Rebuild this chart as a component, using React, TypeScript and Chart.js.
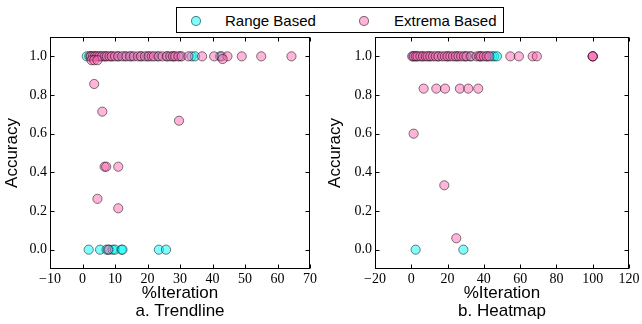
import React, { useEffect, useRef } from 'react';
import { Chart, registerables } from 'chart.js';

Chart.register(...registerables);

// ---- Data: a. Trendline ----
const trendRangeX = [1.3, 2.5, 4.0, 5.5, 7.0, 9.0, 11.0, 13.0, 15.0, 18.0, 20.0, 23.0, 26.0, 28.0, 30.0, 33.6, 34.6, 42.3,
  1.9, 5.4, 7.4, 8.2, 9.3, 10.0, 12.0, 12.3, 23.5, 25.7];
const trendRangeY = [1, 1, 1, 1, 1, 1, 1, 1, 1, 1, 1, 1, 1, 1, 1, 1, 1, 1,
  0, 0, 0, 0, 0, 0, 0, 0, 0, 0];

const trendExtremaX = [2.1, 2.6, 3.2, 3.8, 4.5, 5.2, 6.0, 6.8, 7.5, 8.3, 9.0, 10.0, 11.0, 12.2, 13.5, 14.6, 15.8, 17.0,
  18.0, 19.2, 20.4, 21.3, 22.0, 23.5, 24.6, 26.0, 27.0, 27.8, 28.5, 29.5, 30.5, 32.6, 36.8, 40.5, 42.8, 44.6, 49.0, 55.0, 64.3,
  2.8, 3.6, 4.6, 43.1,
  3.6, 6.1, 29.7, 6.8, 7.3, 11.0, 4.6, 11.0, 7.9];
const trendExtremaY = [1, 1, 1, 1, 1, 1, 1, 1, 1, 1, 1, 1, 1, 1, 1, 1, 1, 1,
  1, 1, 1, 1, 1, 1, 1, 1, 1, 1, 1, 1, 1, 1, 1, 1, 1, 1, 1, 1, 1,
  0.98, 0.98, 0.98, 0.986,
  0.857, 0.714, 0.667, 0.429, 0.429, 0.429, 0.263, 0.214, 0];

// ---- Data: b. Heatmap ----
const heatRangeX = [1.0, 3.0, 6.0, 10.0, 15.0, 20.0, 25.0, 30.0, 32.5, 38.0, 42.0, 44.5, 45.7, 47.2, 2.4, 28.7];
const heatRangeY = [1, 1, 1, 1, 1, 1, 1, 1, 1, 1, 1, 1, 1, 1, 0, 0];

const heatExtremaX = [0.5, 1.5, 2.5, 3.5, 5.0, 6.5, 8.0, 9.0, 10.5, 12.0, 13.5, 15.0, 17.0, 18.5, 20.0, 21.5, 23.0, 24.5,
  26.0, 27.5, 29.0, 30.5, 33.0, 36.0, 37.5, 38.5, 40.0, 41.5, 43.0, 54.6, 59.3, 66.9, 69.2, 100, 100, 100,
  6.8, 13.8, 18.6, 26.8, 31.4, 36.9, 1.3, 18.2, 24.8];
const heatExtremaY = [1, 1, 1, 1, 1, 1, 1, 1, 1, 1, 1, 1, 1, 1, 1, 1, 1, 1,
  1, 1, 1, 1, 1, 1, 1, 1, 1, 1, 1, 1, 1, 1, 1, 1, 1, 1,
  0.833, 0.833, 0.833, 0.833, 0.833, 0.833, 0.6, 0.333, 0.059];

// ---- Axes ----
const yTicks = [0, 0.2, 0.4, 0.6, 0.8, 1.0];
const trendXTicks = [-10, 0, 10, 20, 30, 40, 50, 60, 70];
const heatXTicks = [-20, 0, 20, 40, 60, 80, 100, 120];
const seriesLabels = ['Range Based', 'Extrema Based'];
const xTitle = '%Iteration';
const yTitle = 'Accuracy';
const panelTitles = ['a. Trendline', 'b. Heatmap'];

const CYAN_FILL = 'rgba(0,255,255,0.5)';
const PINK_FILL = 'rgba(255,105,180,0.5)';
const EDGE = 'rgba(0,0,0,0.5)';
const SANS = '"Liberation Sans", Arial, sans-serif';
const SERIF = '"Liberation Serif", "Times New Roman", serif';

const fmtX = (v: number) => (v < 0 ? '\u2212' + Math.abs(v) : String(v));

const framePlugin = {
  id: 'frame',
  afterDraw(chart: any) {
    const { ctx, chartArea: a, scales } = chart;
    const L = Math.round(a.left) + 0.5;
    const R = Math.round(a.right) - 0.5;
    const T = Math.round(a.top) + 0.5;
    const B = Math.round(a.bottom) - 0.5;
    const tl = 4;
    ctx.save();
    ctx.strokeStyle = '#000';
    ctx.lineWidth = 1;
    ctx.beginPath();
    scales.x.ticks.forEach((t: any) => {
      const px = Math.round(scales.x.getPixelForValue(t.value)) + 0.5;
      ctx.moveTo(px, B);
      ctx.lineTo(px, B - tl);
      ctx.moveTo(px, T);
      ctx.lineTo(px, T + tl);
    });
    scales.y.ticks.forEach((t: any) => {
      const py = Math.round(scales.y.getPixelForValue(t.value)) + 0.5;
      ctx.moveTo(L, py);
      ctx.lineTo(L + tl, py);
      ctx.moveTo(R, py);
      ctx.lineTo(R - tl, py);
    });
    ctx.stroke();
    ctx.strokeRect(L, T, R - L, B - T);
    ctx.restore();
  },
};

function makeConfig(opts: {
  rangeX: number[]; rangeY: number[]; extX: number[]; extY: number[];
  xMin: number; xMax: number; xTicks: number[]; panel: string; yWidth: number; padRight: number;
}) {
  const pts = (xs: number[], ys: number[]) => xs.map((x, i) => ({ x, y: ys[i] }));
  return {
    type: 'scatter' as const,
    data: {
      datasets: [
        {
          label: seriesLabels[1],
          data: pts(opts.extX, opts.extY),
          backgroundColor: PINK_FILL,
          borderColor: EDGE,
          borderWidth: 1,
          pointRadius: 4.6,
          order: 0,
        },
        {
          label: seriesLabels[0],
          data: pts(opts.rangeX, opts.rangeY),
          backgroundColor: CYAN_FILL,
          borderColor: EDGE,
          borderWidth: 1,
          pointRadius: 4.6,
          order: 1,
        },
      ],
    },
    options: {
      animation: false as const,
      responsive: false,
      maintainAspectRatio: false,
      layout: { padding: { left: 0, right: opts.padRight, top: 37, bottom: 0 } },
      plugins: { legend: { display: false }, tooltip: { enabled: false } },
      scales: {
        x: {
          type: 'linear' as const,
          min: opts.xMin,
          max: opts.xMax,
          afterBuildTicks: (s: any) => { s.ticks = opts.xTicks.map((v) => ({ value: v })); },
          afterFit: (s: any) => { s.height = 55; },
          grid: { display: false, drawTicks: false },
          border: { display: false },
          ticks: {
            padding: 2,
            color: '#000',
            font: { family: SERIF, size: 14 },
            maxRotation: 0,
            autoSkip: false,
            callback: (v: any) => fmtX(Number(v)),
          },
          title: {
            display: true,
            text: [xTitle, opts.panel],
            color: '#000',
            font: { family: SANS, size: 17, lineHeight: 1.05 },
            padding: { top: 0, bottom: 4 },
          },
        },
        y: {
          type: 'linear' as const,
          min: -0.1,
          max: 1.1,
          afterBuildTicks: (s: any) => { s.ticks = yTicks.map((v) => ({ value: v })); },
          afterFit: (s: any) => { s.width = opts.yWidth; },
          grid: { display: false, drawTicks: false },
          border: { display: false },
          ticks: {
            padding: 3,
            color: '#000',
            font: { family: SERIF, size: 14 },
            autoSkip: false,
            callback: (v: any) => Number(v).toFixed(1),
          },
          title: {
            display: true,
            text: yTitle,
            color: '#000',
            font: { family: SANS, size: 17, lineHeight: 1.2 },
            padding: { top: 2, bottom: 0 },
          },
        },
      },
    },
    plugins: [framePlugin],
  };
}

function Panel(props: { left: number; width: number; cfg: any }) {
  const ref = useRef<HTMLCanvasElement | null>(null);
  useEffect(() => {
    if (!ref.current) return;
    const chart = new Chart(ref.current, props.cfg);
    return () => chart.destroy();
  }, []);
  return (
    <canvas
      ref={ref}
      width={props.width}
      height={324}
      style={{ position: 'absolute', left: props.left, top: 0, width: props.width, height: 324 }}
    />
  );
}

function LegendItem(props: { color: string; label: string; markerX: number; textX: number }) {
  return (
    <>
      <span
        style={{
          position: 'absolute',
          left: props.markerX - 5,
          top: 21 - 5,
          width: 8,
          height: 8,
          borderRadius: '50%',
          background: props.color,
          border: '1px solid ' + EDGE,
        }}
      />
      <span
        style={{
          position: 'absolute',
          left: props.textX,
          top: 12,
          fontFamily: SANS,
          fontSize: 15,
          lineHeight: '18px',
          color: '#000',
          whiteSpace: 'nowrap',
        }}
      >
        {props.label}
      </span>
    </>
  );
}

export default function App() {
  const leftCfg = makeConfig({
    rangeX: trendRangeX, rangeY: trendRangeY, extX: trendExtremaX, extY: trendExtremaY,
    xMin: -10, xMax: 70, xTicks: trendXTicks, panel: panelTitles[0], yWidth: 50, padRight: 15,
  });
  const rightCfg = makeConfig({
    rangeX: heatRangeX, rangeY: heatRangeY, extX: heatExtremaX, extY: heatExtremaY,
    xMin: -20, xMax: 120, xTicks: heatXTicks, panel: panelTitles[1], yWidth: 52, padRight: 13,
  });
  return (
    <div style={{ position: 'absolute', left: 0, top: 0, width: 642, height: 324, background: '#fff', overflow: 'hidden' }}>
      <Panel left={0} width={325} cfg={leftCfg} />
      <Panel left={323} width={319} cfg={rightCfg} />
      <div
        style={{
          position: 'absolute',
          left: 176,
          top: 7,
          width: 328,
          height: 26,
          border: '1px solid #000',
          background: '#fff',
          boxSizing: 'border-box',
        }}
      />
      <LegendItem color={CYAN_FILL} label={seriesLabels[0]} markerX={196} textX={225} />
      <LegendItem color={PINK_FILL} label={seriesLabels[1]} markerX={364} textX={394} />
    </div>
  );
}
